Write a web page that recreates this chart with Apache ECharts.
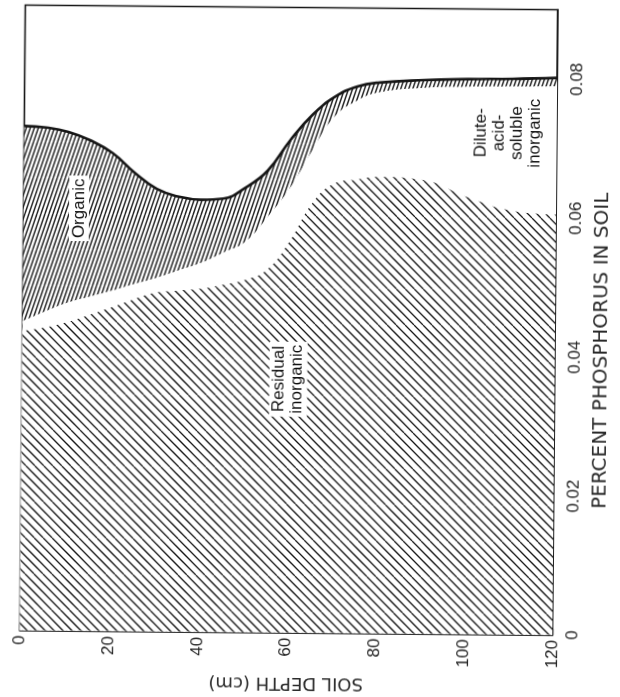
<!DOCTYPE html>
<html>
<head>
<meta charset="utf-8">
<script src="https://cdn.jsdelivr.net/npm/echarts@6/dist/echarts.min.js"></script>
<style>
  html, body { margin: 0; padding: 0; background: #fff; overflow: hidden; }
  /* the printed figure sits slightly askew on the page */
  #chart { width: 620px; height: 697px; transform: rotate(0.5deg); transform-origin: 298.5px 328px; }
</style>
</head>
<body>
<div id="chart"></div>
<script>
// Soil depth (cm) at which the phosphorus fractions are sampled
const depths = [0, 5, 10, 15, 20, 25, 30, 35, 40, 45, 50, 55, 60, 65, 70, 75, 80, 90, 100, 110, 120];
// Percent phosphorus in each fraction
const residualInorganic = [0.0431, 0.0436, 0.0444, 0.0455, 0.0466, 0.0478, 0.0488, 0.0491, 0.0494, 0.0500, 0.0507,
  0.0522, 0.0563, 0.0618, 0.0647, 0.0653, 0.0657, 0.0653, 0.0629, 0.0610, 0.0605];
const diluteAcidSoluble = [0.0014, 0.0023, 0.0028, 0.0026, 0.0024, 0.0022, 0.0021, 0.0029, 0.0037, 0.0046, 0.0055,
  0.0076, 0.0077, 0.0077, 0.0097, 0.0114, 0.0122, 0.0133, 0.0159, 0.0179, 0.0185];
const organic = [0.0281, 0.0265, 0.0246, 0.0225, 0.0198, 0.0160, 0.0128, 0.0106, 0.0091, 0.0078, 0.0078,
  0.0067, 0.0069, 0.0051, 0.0028, 0.0020, 0.0014, 0.0011, 0.0011, 0.0011, 0.0012];

// Axis ticks
const depthTicks = [0, 20, 40, 60, 80, 100, 120];
const phosphorusTicks = [0, 0.02, 0.04, 0.06, 0.08];
const phosphorusTickLabels = ['0', '0.02', '0.04', '0.06', '0.08'];

// Region names and where they sit, in [depth, percent P]
const regionLabels = [
  { text: 'Organic', at: [12.5, 0.0608] },
  { text: 'Residual\ninorganic', at: [60, 0.0365] },
  { text: 'Dilute-\nacid-\nsoluble\ninorganic', at: [109, 0.0722], plain: true }
];

const INK = '#161616';
const FONT = '"Liberation Sans", Arial, sans-serif';
const WIDE = '"DejaVu Sans", Verdana, sans-serif';

// Cumulative boundaries of the three fractions (bottom to top)
const residualTop = residualInorganic.slice();
const diluteTop = residualTop.map((v, i) => v + diluteAcidSoluble[i]);
const totalP = diluteTop.map((v, i) => v + organic[i]);

// Repeating hatch tile: parallel lines of a given slope (dx across per dy down)
function hatch(size, period, dx, dy, width, color, bg) {
  const c = document.createElement('canvas');
  c.width = size; c.height = size;
  const g = c.getContext('2d');
  if (bg) { g.fillStyle = bg; g.fillRect(0, 0, size, size); }
  g.strokeStyle = color;
  g.lineWidth = width;
  const run = size * dx / dy;
  for (let x = -3 * size; x <= 3 * size; x += period) {
    g.beginPath();
    g.moveTo(x, 0);
    g.lineTo(x + run, size);
    g.stroke();
  }
  return c;
}

const residualHatch = hatch(36, 9, 1, 1, 1.25, INK, '#fff');       // "\" at 45 degrees
const organicHatch = hatch(36, 4, -1, 3, 1.45, '#202020', '#fff');  // steep "/"

const pairs = arr => depths.map((d, i) => [d, arr[i]]);
const curve = { type: 'line', smooth: 0.45, symbol: 'none', silent: true };

const chart = echarts.init(document.getElementById('chart'), null, { renderer: 'canvas' });

const option = {
  backgroundColor: '#fff',
  animation: false,
  grid: {
    left: 22.5, top: 7.5, width: 552, height: 641,
    show: true, borderColor: INK, borderWidth: 1.6, backgroundColor: 'transparent'
  },
  xAxis: {
    type: 'value', min: 0, max: 120, interval: 20, position: 'bottom',
    axisLine: { show: true, onZero: false, lineStyle: { color: INK, width: 1.6 } },
    axisTick: { show: true, inside: true, length: 6, lineStyle: { color: INK, width: 1.3 } },
    axisLabel: { rotate: 90, margin: 5, fontSize: 17, color: '#222', fontFamily: FONT,
      formatter: v => (depthTicks.includes(v) ? String(v) : '') },
    splitLine: { show: false },
    name: 'SOIL DEPTH (cm)', nameLocation: 'middle', nameRotate: 180, nameGap: 27,
    nameTextStyle: { fontSize: 18, color: '#2a2a2a', fontFamily: WIDE }
  },
  yAxis: {
    type: 'value', min: 0, max: 0.09, interval: 0.01, position: 'right',
    axisLine: { show: true, onZero: false, lineStyle: { color: INK, width: 1.6 } },
    axisTick: { show: true, inside: true, length: 6, lineStyle: { color: INK, width: 1.3 } },
    axisLabel: {
      rotate: 90, margin: 12, fontSize: 17, color: '#222', fontFamily: FONT, showMaxLabel: false,
      formatter: v => {
        const k = phosphorusTicks.findIndex(t => Math.abs(t - v) < 1e-6);
        return k < 0 ? '' : phosphorusTickLabels[k];
      }
    },
    splitLine: { show: false },
    name: 'PERCENT PHOSPHORUS IN SOIL', nameLocation: 'middle', nameRotate: 90, nameGap: 37,
    nameTextStyle: { fontSize: 20, color: '#2a2a2a', fontFamily: WIDE, padding: [0, 56, 0, 0] }
  },
  series: [
    // organic band: hatched from its top curve down, later covered below its base
    Object.assign({}, curve, {
      name: 'Organic', data: pairs(totalP), z: 2,
      lineStyle: { width: 2.6, color: INK },
      areaStyle: { color: { image: organicHatch, repeat: 'repeat' }, opacity: 1, origin: 'start' }
    }),
    // dilute-acid-soluble inorganic: left blank
    Object.assign({}, curve, {
      name: 'Dilute-acid-soluble inorganic', data: pairs(diluteTop), z: 3,
      lineStyle: { width: 0, opacity: 0 },
      areaStyle: { color: '#fff', opacity: 1, origin: 'start' }
    }),
    // residual inorganic: coarse hatching from zero
    Object.assign({}, curve, {
      name: 'Residual inorganic', data: pairs(residualTop), z: 4,
      lineStyle: { width: 0, opacity: 0 },
      areaStyle: { color: { image: residualHatch, repeat: 'repeat' }, opacity: 1, origin: 'start' }
    })
  ]
};

chart.setOption(option);

// Region names, rotated to run up the page, placed through the chart's own scales
chart.setOption({
  graphic: regionLabels.map(l => {
    const p = chart.convertToPixel({ gridIndex: 0 }, l.at);
    return {
      type: 'text', x: p[0], y: p[1], rotation: Math.PI / 2, z: 100,
      style: {
        text: l.text, fill: '#111', font: '17px ' + FONT,
        align: 'center', verticalAlign: 'middle', lineHeight: 18,
        backgroundColor: l.plain ? 'transparent' : '#fff', padding: [1, 3]
      }
    };
  })
});
</script>
</body>
</html>
